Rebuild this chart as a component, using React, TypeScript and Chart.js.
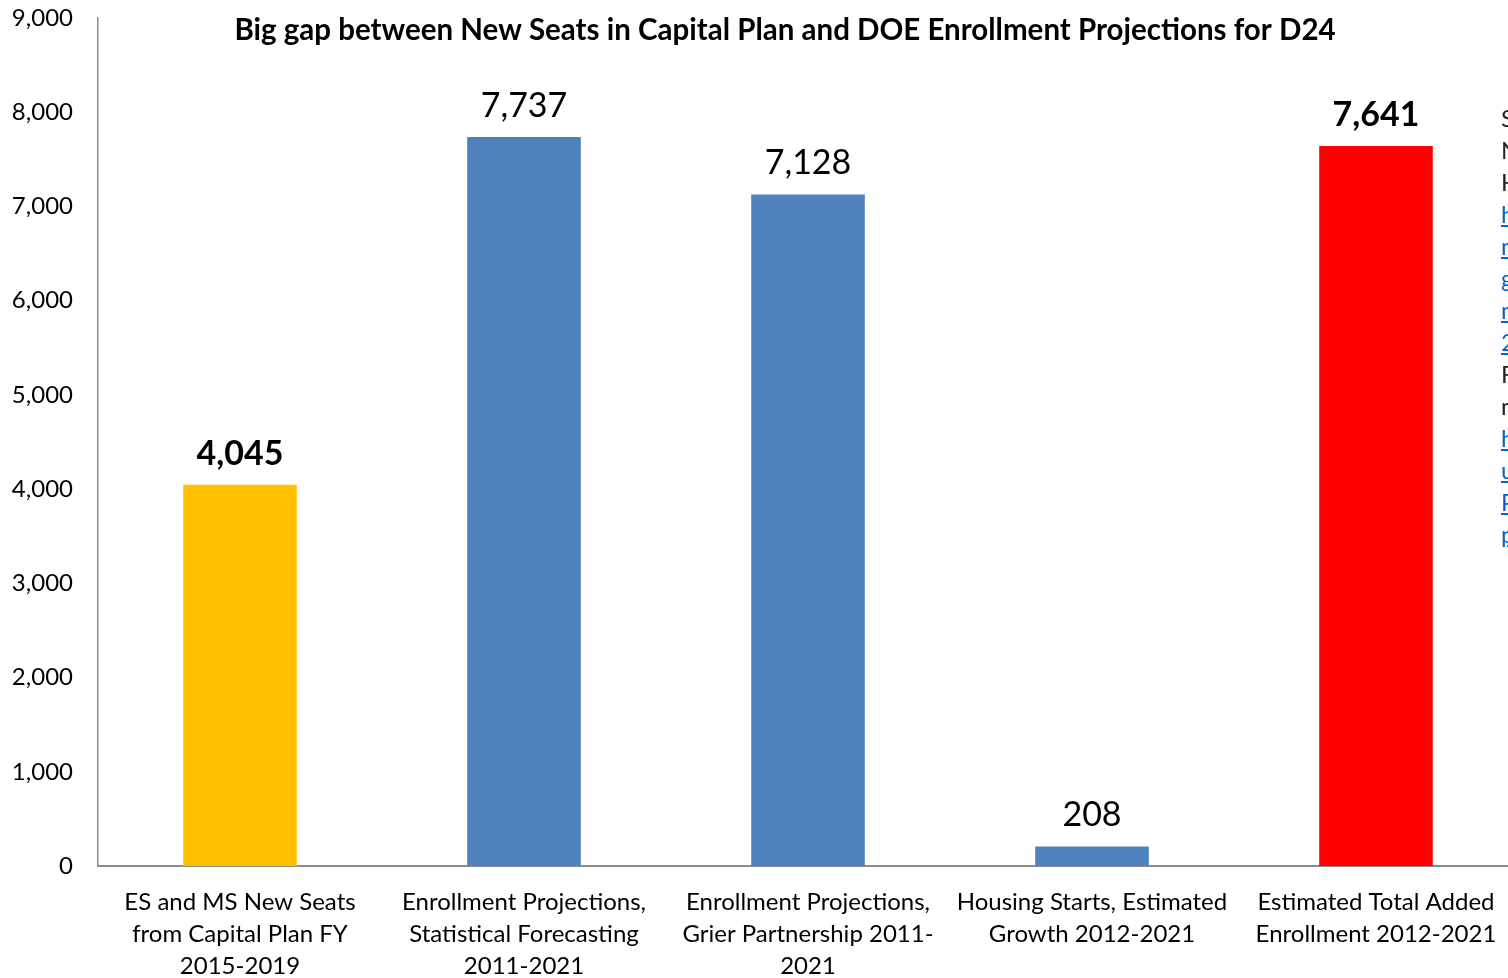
import React, { useEffect, useRef } from "react";
import { Chart, registerables } from "chart.js";

Chart.register(...registerables);

const chartTitle = "Big gap between New Seats in Capital Plan and DOE Enrollment Projections for D24";
const categories: string[][] = [
  ["ES and MS New Seats", "from Capital Plan FY", "2015-2019"],
  ["Enrollment Projections,", "Statistical Forecasting", "2011-2021"],
  ["Enrollment Projections,", "Grier Partnership 2011-", "2021"],
  ["Housing Starts, Estimated", "Growth 2012-2021"],
  ["Estimated Total Added", "Enrollment 2012-2021"],
];
const values: number[] = [4045, 7737, 7128, 208, 7641];
const barColors: string[] = ["#FFC000", "#4F81BD", "#4F81BD", "#4F81BD", "#FF0000"];
const boldLabels: boolean[] = [true, false, false, false, true];
const yTicks: number[] = [0, 1000, 2000, 3000, 4000, 5000, 6000, 7000, 8000, 9000];
const sourceLines: { text: string; link: boolean }[] = [
  { text: "Sources:", link: false },
  { text: "NYC SCA Enrollment", link: false },
  { text: "Housing Projections,", link: false },
  { text: "http://www.nycsca.org/", link: true },
  { text: "nycsca.org/Community/", link: true },
  { text: "gov/CapitalPlan/", link: true },
  { text: "nyc-enrollment-", link: true },
  { text: "2011-2021", link: true },
  { text: "FY2015-2019 Capital Plan,", link: false },
  { text: "nycsca.org", link: false },
  { text: "http://www.nycsca.org/", link: true },
  { text: "uploads/Capital", link: true },
  { text: "Plan2015-2019-", link: true },
  { text: "proposed.pdf", link: true },
];

const FONT = "Lato, 'Open Sans', sans-serif";

const overlayPlugin = {
  id: "overlay",
  afterDatasetsDraw(chart: any) {
    const ctx = chart.ctx;
    const meta = chart.getDatasetMeta(0);
    ctx.save();
    ctx.fillStyle = "#000";
    ctx.textAlign = "center";
    ctx.textBaseline = "alphabetic";
    meta.data.forEach((bar: any, i: number) => {
      ctx.font = `${boldLabels[i] ? "bold " : ""}34px ${FONT}`;
      ctx.fillText(values[i].toLocaleString("en-US"), bar.x, bar.y - 20);
    });
    ctx.font = `bold 29.5px ${FONT}`;
    ctx.textBaseline = "middle";
    ctx.fillText(chartTitle, 785, 30);
    ctx.restore();
  },
};

export default function App() {
  const canvasRef = useRef<HTMLCanvasElement | null>(null);
  useEffect(() => {
    if (!canvasRef.current) return;
    const chart = new Chart(canvasRef.current, {
      type: "bar",
      data: {
        labels: categories,
        datasets: [
          {
            data: values,
            backgroundColor: barColors,
            barPercentage: 0.4,
            categoryPercentage: 1.0,
          },
        ],
      },
      options: {
        animation: false,
        responsive: false,
        devicePixelRatio: 1,
        layout: { padding: { top: 18, right: 12, left: 0, bottom: 0 } },
        plugins: { legend: { display: false }, tooltip: { enabled: false }, title: { display: false } },
        scales: {
          x: {
            grid: { display: false, drawTicks: false },
            border: { display: true, color: "#8C8C8C", width: 2 },
            ticks: {
              color: "#000",
              font: { family: FONT, size: 24, lineHeight: 32 / 24 },
              padding: 20,
              maxRotation: 0,
              autoSkip: false,
            },
            afterFit: (s: any) => {
              s.height = 134;
              s.paddingLeft = 0;
              s.paddingRight = 0;
            },
          },
          y: {
            min: 0,
            max: 9000,
            afterBuildTicks: (s: any) => {
              s.ticks = yTicks.map((v) => ({ value: v }));
            },
            grid: { display: false, drawTicks: false },
            border: { display: true, color: "#8C8C8C", width: 1.5 },
            ticks: {
              color: "#000",
              font: { family: FONT, size: 24 },
              padding: 25,
              callback: (v: any) => Number(v).toLocaleString("en-US"),
            },
            afterFit: (s: any) => {
              s.width = 98;
              s.paddingTop = 0;
              s.paddingBottom = 0;
            },
          },
        },
      },
      plugins: [overlayPlugin],
    });
    return () => chart.destroy();
  }, []);

  return (
    <div
      style={{
        position: "fixed",
        left: 0,
        top: 0,
        width: 1508,
        height: 978,
        overflow: "hidden",
        background: "#fff",
      }}
    >
      <canvas ref={canvasRef} width={1530} height={1000} style={{ position: "absolute", left: 0, top: 0 }} />
      <div
        style={{
          position: "absolute",
          left: 1501,
          top: 102,
          fontFamily: FONT,
          fontSize: 24,
          lineHeight: "32px",
          whiteSpace: "nowrap",
          color: "#222",
        }}
      >
        {sourceLines.map((l, i) => (
          <div key={i}>
            {l.link ? (
              <a href="#" style={{ color: "#0563C1", textDecoration: "underline" }}>
                {l.text}
              </a>
            ) : (
              l.text
            )}
          </div>
        ))}
      </div>
    </div>
  );
}
